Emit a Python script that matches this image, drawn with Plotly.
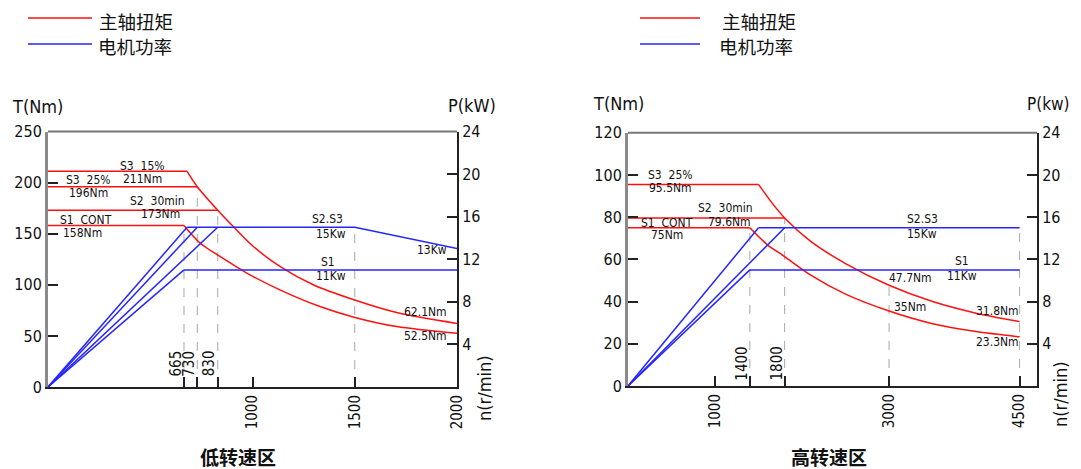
import plotly.graph_objects as go

# ---------------- DATA ----------------
# Low-speed zone (低转速区)
low_flat_names = ["S3 15%", "S3 25%", "S2 30min", "S1 CONT"]
low_flat_torque = [211, 196, 173, 158]          # Nm
low_flat_base_n = [680, 730, 830, 665]          # r/min
low_flat_power = [15, 15, 15, 11]               # kW reached at base speed
low_curve15_n = [680, 730, 830, 906, 1004, 1134, 1297, 1496, 1705, 2000]
low_curve15_T = [211, 196, 173, 157, 137.5, 118, 100, 85.3, 72.8, 62.1]
low_curve11_n = [665, 743, 841, 972, 1134, 1330, 1496, 1705, 2000]
low_curve11_T = [158, 140.9, 127.7, 111.5, 95.1, 78.7, 68.3, 59.1, 52.5]
low_p_s23_n = [680, 1500, 2000]
low_p_s23_P = [15, 15, 13]
low_p_s1_n = [665, 2000]
low_p_s1_P = [11, 11]
low_x_ticks = [665, 730, 830, 1000, 1500, 2000]
low_x_ticktext = ["", "", "", "1000", "1500", "2000"]
low_inner_ticks = [665, 730, 830]
low_T_ticks = [0, 50, 100, 150, 200, 250]
low_P_ticks = [4, 8, 12, 16, 20, 24]

# High-speed zone (高转速区)
high_flat_names = ["S3 25%", "S2 30min", "S1 CONT"]
high_flat_torque = [95.5, 79.6, 75]
high_flat_base_n = [1500, 1800, 1400]
high_flat_power = [15, 15, 11]
high_curve15_n = [1500, 1650, 1800, 2100, 2500, 3000, 3500, 4000, 4500]
high_curve15_T = [95.5, 87, 79.6, 68.5, 58, 47.7, 40, 34.5, 30.5]
high_curve11_n = [1400, 1600, 1800, 2100, 2500, 3000, 3500, 4000, 4500]
high_curve11_T = [75, 67, 61.3, 52.5, 43.5, 35.5, 29.5, 25.8, 23.3]
high_p_s23_n = [1500, 4500]
high_p_s23_P = [15, 15]
high_p_s1_n = [1400, 4500]
high_p_s1_P = [11, 11]
high_x_ticks = [1000, 1400, 1800, 3000, 4500]
high_x_ticktext = ["1000", "", "", "3000", "4500"]
high_inner_ticks = [1400, 1800]
high_T_ticks = [0, 20, 40, 60, 80, 100, 120]
high_P_ticks = [4, 8, 12, 16, 20, 24]

legend_torque = "主轴扭矩"
legend_power = "电机功率"
title_low = "低转速区"
title_high = "高转速区"

# ---------------- STYLE ----------------
PAGE_W, PAGE_H = 1081, 469
OFF = 8                      # default page (body) margin
W, H = PAGE_W - OFF, PAGE_H - OFF
RED = "#ff1010"
BLUE = "#2525ff"
GRAY = "#a8a8a8"
NARROW = "Liberation Sans Narrow, DejaVu Sans Condensed, Arial Narrow, sans-serif"
CJK = "Noto Sans CJK SC, sans-serif"
NB = "\u00a0"


def pxx(x):
    return (x - OFF) / W


def pyy(y):
    return 1 - (y - OFF) / H


fig = go.Figure()


def add_line(x, y, color, xa, ya, dash=None, width=1.5, shape="linear"):
    fig.add_trace(go.Scatter(
        x=x, y=y, mode="lines",
        line=dict(color=color, width=width, dash=dash, shape=shape, smoothing=0.8),
        xaxis=xa, yaxis=ya, showlegend=False, hoverinfo="skip"))


# ---- low chart ----
for n, T in zip(low_flat_base_n[1:], low_flat_torque[1:]):
    add_line([n, n], [0, T], GRAY, "x", "y", dash="dash", width=1)
add_line([low_p_s23_n[1]] * 2, [0, low_p_s23_P[1]], GRAY, "x", "y3", dash="dash", width=1)
for n, P in zip(low_flat_base_n, low_flat_power):
    add_line([0, n], [0, P], BLUE, "x", "y3")
add_line(low_p_s23_n, low_p_s23_P, BLUE, "x", "y3")
add_line(low_p_s1_n, low_p_s1_P, BLUE, "x", "y3")
for n, T in zip(low_flat_base_n, low_flat_torque):
    add_line([0, n], [T, T], RED, "x", "y")
add_line(low_curve15_n, low_curve15_T, RED, "x", "y", shape="spline")
add_line(low_curve11_n, low_curve11_T, RED, "x", "y", shape="spline")

# ---- high chart ----
for n, T in zip(high_flat_base_n[1:], high_flat_torque[1:]):
    add_line([n, n], [0, T], GRAY, "x2", "y2", dash="dash", width=1)
add_line([high_curve15_n[5]] * 2, [0, high_curve15_T[5]], GRAY, "x2", "y2", dash="dash", width=1)
add_line([high_p_s23_n[1]] * 2, [0, high_p_s23_P[1]], GRAY, "x2", "y4", dash="dash", width=1)
for n, P in zip(high_flat_base_n, high_flat_power):
    add_line([0, n], [0, P], BLUE, "x2", "y4")
add_line(high_p_s23_n, high_p_s23_P, BLUE, "x2", "y4")
add_line(high_p_s1_n, high_p_s1_P, BLUE, "x2", "y4")
for n, T in zip(high_flat_base_n, high_flat_torque):
    add_line([0, n], [T, T], RED, "x2", "y2")
add_line(high_curve15_n, high_curve15_T, RED, "x2", "y2", shape="spline")
add_line(high_curve11_n, high_curve11_T, RED, "x2", "y2", shape="spline")

# ---------------- AXES ----------------
tickfont = dict(family=NARROW, size=16, color="#111")


def xaxis(domain, rng, tv, tt, anchor):
    return dict(domain=domain, range=rng, anchor=anchor, tickvals=tv, ticktext=tt,
                ticks="inside", ticklen=10, tickwidth=1.5, tickcolor="#222",
                tickangle=-90, tickfont=dict(family=NARROW, size=15, color="#111"),
                showline=True, linecolor="#222", linewidth=2, showgrid=False,
                zeroline=False, fixedrange=True, automargin=False)


def yaxis_left(domain, rng, tv, anchor):
    return dict(domain=domain, range=rng, anchor=anchor, tickvals=tv,
                ticks="inside", ticklen=10, tickwidth=1.5, tickcolor="#222",
                tickfont=tickfont, showline=True, linecolor="#8a8a8a", linewidth=3,
                showgrid=False, zeroline=False, fixedrange=True, automargin=False)


def yaxis_right(domain, rng, tv, anchor, over):
    return dict(domain=domain, range=rng, anchor=anchor, overlaying=over, side="right",
                tickvals=tv, ticks="inside", ticklen=10, tickwidth=1.5, tickcolor="#222",
                tickfont=tickfont, showline=True, linecolor="#222", linewidth=2,
                showgrid=False, zeroline=False, fixedrange=True, automargin=False)


dom_low_x = [pxx(48), pxx(457)]
dom_low_y = [pyy(387), pyy(131.5)]
dom_high_x = [pxx(628), pxx(1037)]
dom_high_y = [pyy(386), pyy(132.7)]

fig.update_layout(
    width=W, height=H, margin=dict(l=0, r=0, t=0, b=0, pad=0, autoexpand=False),
    paper_bgcolor="white", plot_bgcolor="white", showlegend=False,
    xaxis=xaxis(dom_low_x, [0, 2000], low_x_ticks, low_x_ticktext, "y"),
    yaxis=yaxis_left(dom_low_y, [0, 250], low_T_ticks, "x"),
    yaxis3=yaxis_right(dom_low_y, [0, 24], low_P_ticks, "x", "y"),
    xaxis2=xaxis(dom_high_x, [0, 4700], high_x_ticks, high_x_ticktext, "y2"),
    yaxis2=yaxis_left(dom_high_y, [0, 120], high_T_ticks, "x2"),
    yaxis4=yaxis_right(dom_high_y, [0, 24], high_P_ticks, "x2", "y2"),
)

shapes = []
for xr, yr in (("x domain", "y domain"), ("x2 domain", "y2 domain")):
    shapes.append(dict(type="line", xref=xr, yref=yr, x0=0, x1=1, y0=1, y1=1,
                       line=dict(color="#777", width=2)))
for x0, x1 in ((28, 92), (640, 700)):
    shapes.append(dict(type="line", xref="paper", yref="paper", x0=pxx(x0), x1=pxx(x1),
                       y0=pyy(18), y1=pyy(18), line=dict(color=RED, width=1.5)))
    shapes.append(dict(type="line", xref="paper", yref="paper", x0=pxx(x0), x1=pxx(x1),
                       y0=pyy(44), y1=pyy(44), line=dict(color=BLUE, width=1.5)))
fig.update_layout(shapes=shapes)

ann = []


def paper_text(text, x, y, size, family=NARROW, angle=0, xanchor="center"):
    ann.append(dict(text=text, xref="paper", yref="paper", x=pxx(x), y=pyy(y),
                    xanchor=xanchor, yanchor="middle", showarrow=False, textangle=angle,
                    borderpad=0, font=dict(family=family, size=size, color="#111")))


def data_text(text, x, y, xa, ya, size=12, xanchor="center", xshift=0, angle=0):
    ann.append(dict(text=text, xref=xa, yref=ya, x=x, y=y, xanchor=xanchor,
                    yanchor="middle", showarrow=False, xshift=xshift, textangle=angle,
                    font=dict(family=NARROW, size=size, color="#111")))


def nb(s):
    return s.replace(" ", NB + NB)


paper_text(legend_torque, 98, 21, 18.5, CJK, xanchor="left")
paper_text(legend_power, 97, 46, 18.5, CJK, xanchor="left")
paper_text(legend_torque, 721, 21, 18.5, CJK, xanchor="left")
paper_text(legend_power, 718, 46, 18.5, CJK, xanchor="left")
paper_text("<b>" + title_low + "</b>", 238, 456, 19, CJK)
paper_text("<b>" + title_high + "</b>", 829, 456, 19, CJK)
paper_text("T(Nm)", 37, 106, 18)
paper_text("P(kW)", 472, 105, 18)
paper_text("n(r/min)", 484, 388, 18, angle=-90)
paper_text("T(Nm)", 618, 104, 18)
paper_text("P(kw)", 1071, 104, 17, xanchor="right")
paper_text("n(r/min)", 1060, 394, 18, angle=-90)

for n in low_inner_ticks:
    data_text(str(n), n, 23, "x", "y", size=15, xshift=-8, angle=-90)
for n in high_inner_ticks:
    data_text(str(n), n, 10.5, "x2", "y2", size=15, xshift=-8, angle=-90)

T = low_flat_torque
data_text(nb(low_flat_names[0]), 460, 216, "x", "y")
data_text(f"{T[0]}Nm", 460, 204, "x", "y")
data_text(nb(low_flat_names[1]), 196, 203, "x", "y")
data_text(f"{T[1]}Nm", 196, 190, "x", "y")
data_text(nb(low_flat_names[2]), 533, 182, "x", "y")
data_text(f"{T[2]}Nm", 548, 169.6, "x", "y")
data_text(nb(low_flat_names[3]), 186, 163.7, "x", "y")
data_text(f"{T[3]}Nm", 171, 151, "x", "y")
data_text("S2.S3", 1369, 15.8, "x", "y3")
data_text(f"{low_p_s23_P[0]}Kw", 1384, 14.4, "x", "y3")
data_text("S1", 1369, 11.7, "x", "y3")
data_text(f"{low_p_s1_P[0]}Kw", 1384, 10.4, "x", "y3")
data_text(f"{low_p_s23_P[-1]}Kw", 2000, 12.9, "x", "y3", xanchor="right", xshift=-8)
data_text(f"{low_curve15_T[-1]}Nm", 2000, 73.8, "x", "y", xanchor="right", xshift=-8)
data_text(f"{low_curve11_T[-1]}Nm", 2000, 50, "x", "y", xanchor="right", xshift=-8)

T = high_flat_torque
data_text(nb(high_flat_names[0]), 483, 100, "x2", "y2")
data_text(f"{T[0]}Nm", 483, 93.8, "x2", "y2")
data_text(nb(high_flat_names[1]), 1115, 84.3, "x2", "y2")
data_text(f"{T[1]}Nm", 1172, 77.6, "x2", "y2")
data_text(nb(high_flat_names[2]), 448, 77.1, "x2", "y2")
data_text(f"{T[2]}Nm", 448, 71.4, "x2", "y2")
data_text("S2.S3", 3379, 15.8, "x2", "y4")
data_text(f"{high_p_s23_P[0]}Kw", 3379, 14.4, "x2", "y4")
data_text("S1", 3838, 11.8, "x2", "y4")
data_text(f"{high_p_s1_P[0]}Kw", 3838, 10.4, "x2", "y4")
data_text("47.7Nm", 3000, 51.3, "x2", "y2", xanchor="left", xshift=-2)
data_text("35Nm", 3000, 37.3, "x2", "y2", xanchor="left", xshift=3)
data_text("31.8Nm", 4500, 35.4, "x2", "y2", xanchor="right", xshift=1)
data_text("23.3Nm", 4500, 20.8, "x2", "y2", xanchor="right", xshift=1)

fig.update_layout(annotations=ann)

fig.write_html("out.html")
